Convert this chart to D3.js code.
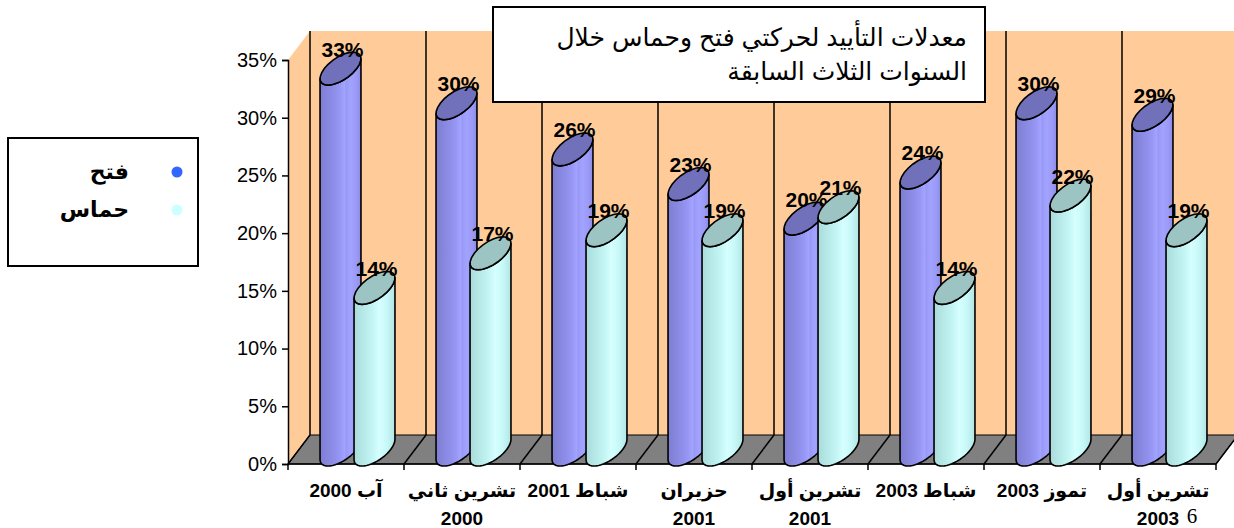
<!DOCTYPE html>
<html>
<head>
<meta charset="utf-8">
<script src="https://cdn.jsdelivr.net/npm/d3@7"></script>
<style>
  body { margin: 0; background: #fff; }
  svg { display: block; font-family: Arial, "Liberation Sans", "DejaVu Sans", sans-serif; }
</style>
</head>
<body>
<svg id="chart" width="1234" height="528"></svg>
<script>
// data
var categories = [["آب 2000"], ["تشرين ثاني", "2000"], ["شباط 2001"], ["حزيران", "2001"],
                  ["تشرين أول", "2001"], ["شباط 2003"], ["تموز 2003"], ["تشرين أول", "2003"]];
var seriesNames = ["فتح", "حماس"];
var fatah = [33, 30, 26, 23, 20, 24, 30, 29];
var hamas = [14, 17, 19, 19, 21, 14, 22, 19];
var yTicks = [0, 5, 10, 15, 20, 25, 30, 35];
var titleLines = ["معدلات التأييد لحركتي فتح وحماس خلال", "السنوات الثلاث السابقة"];
var slideNumber = "6";

var svg = d3.select("#chart");

// 3d depth offset of the plot
var dx = 22, dy = 29;

var x0 = d3.scaleBand().domain(d3.range(categories.length)).range([288, 1216]);
var x1 = d3.scaleBand().domain([0, 1]).range([35.5, 103.5]);
var y = d3.scaleLinear().domain([0, 35]).range([464, 60]);

var defs = svg.append("defs");
function grad(id, stops) {
  var g = defs.append("linearGradient").attr("id", id)
    .attr("x1", "0%").attr("x2", "100%").attr("y1", "0%").attr("y2", "0%");
  stops.forEach(function(s) {
    g.append("stop").attr("offset", s[0]).attr("stop-color", s[1]);
  });
}
grad("g-fatah", [[0, "#7d7dd2"], [0.15, "#8585dc"], [0.35, "#8f8fea"], [0.5, "#9797f6"],
                 [0.6, "#a4a4ff"], [0.63, "#9898f6"], [0.75, "#a2a2ff"], [0.9, "#9a9af6"], [1, "#8a8ae4"]]);
grad("g-hamas", [[0, "#a9dbdb"], [0.2, "#b5e7e7"], [0.45, "#c4f5f5"], [0.62, "#d6ffff"],
                 [0.8, "#c8f8f8"], [1, "#b3e5e5"]]);

var bodyFill = ["url(#g-fatah)", "url(#g-hamas)"];
var topFill = ["#7070bb", "#9cc4c2"];
var legendDot = ["#3366ff", "#ccffff"];

// walls
var yTop = y(35), yBot = y(0);
svg.append("path")
  .attr("d", "M" + x0.range()[0] + "," + yTop + "L" + (x0.range()[0] + dx) + "," + (yTop - dy) +
             "L" + (x0.range()[0] + dx) + "," + (yBot - dy) + "L" + x0.range()[0] + "," + yBot + "Z")
  .attr("fill", "#ffcc99");
svg.append("rect")
  .attr("x", x0.range()[0] + dx).attr("y", yTop - dy)
  .attr("width", x0.range()[1] - x0.range()[0]).attr("height", yBot - yTop)
  .attr("fill", "#ffcc99");

// category dividers on back wall
svg.selectAll("line.div")
  .data(d3.range(categories.length + 1)).enter()
  .append("line").attr("class", "div")
  .attr("x1", function(i) { return x0.range()[0] + i * x0.step() + dx; })
  .attr("x2", function(i) { return x0.range()[0] + i * x0.step() + dx; })
  .attr("y1", yTop - dy).attr("y2", yBot - dy)
  .attr("stroke", "#000").attr("stroke-width", 1.5);

// floor
svg.append("path")
  .attr("d", "M" + x0.range()[0] + "," + yBot + "L" + x0.range()[1] + "," + yBot +
             "L" + (x0.range()[1] + dx) + "," + (yBot - dy) + "L" + (x0.range()[0] + dx) + "," + (yBot - dy) + "Z")
  .attr("fill", "#808080").attr("stroke", "#000").attr("stroke-width", 1);
svg.selectAll("line.floor")
  .data(d3.range(categories.length + 1)).enter()
  .append("line").attr("class", "floor")
  .attr("x1", function(i) { return x0.range()[0] + i * x0.step(); })
  .attr("y1", yBot)
  .attr("x2", function(i) { return x0.range()[0] + i * x0.step() + dx; })
  .attr("y2", yBot - dy)
  .attr("stroke", "#000").attr("stroke-width", 1.5);

// axes
var yAxis = svg.append("g")
  .attr("transform", "translate(" + x0.range()[0] + ",0)")
  .call(d3.axisLeft(y).tickValues(yTicks).tickSize(6).tickPadding(5)
          .tickFormat(function(d) { return d + "%"; }));
yAxis.select(".domain").attr("stroke-width", 1.5);
yAxis.selectAll("line").attr("stroke-width", 1.5);
yAxis.selectAll("text").attr("font-size", 20).attr("font-family", "Arial, 'Liberation Sans'").attr("fill", "#000");

svg.append("line")
  .attr("x1", x0.range()[0]).attr("x2", x0.range()[1])
  .attr("y1", yBot).attr("y2", yBot)
  .attr("stroke", "#000").attr("stroke-width", 1.5);
svg.selectAll("line.xtick")
  .data(d3.range(categories.length + 1)).enter()
  .append("line").attr("class", "xtick")
  .attr("x1", function(i) { return x0.range()[0] + i * x0.step(); })
  .attr("x2", function(i) { return x0.range()[0] + i * x0.step(); })
  .attr("y1", yBot).attr("y2", yBot + 6)
  .attr("stroke", "#000").attr("stroke-width", 1.5);

// category labels
svg.selectAll("text.cat")
  .data(categories).enter()
  .append("text").attr("class", "cat")
  .attr("direction", "rtl")
  .attr("text-anchor", "middle")
  .attr("font-size", 19).attr("font-weight", "bold")
  .each(function(lines, i) {
    var t = d3.select(this);
    lines.forEach(function(l, k) {
      t.append("tspan")
        .attr("x", x0(i) + x0.bandwidth() / 2)
        .attr("y", 497 + k * 28)
        .text(l);
    });
  });

// cylinders
var A = 16.2, B = 12.5, C = 16.5, lift = 14.5;
var th0 = Math.atan2(B, A);
function pt(cx, ec, th) { return [cx + A * Math.cos(th) + B * Math.sin(th), ec - C * Math.sin(th)]; }
function arcPts(cx, ec, from, to) {
  var n = 24, out = [];
  for (var k = 0; k <= n; k++) out.push(pt(cx, ec, from + (to - from) * k / n));
  return out;
}
function bodyPath(cx, v) {
  var et = y(v) - lift, eb = y(0) - lift;
  var pts = arcPts(cx, eb, th0 + Math.PI, th0 + 2 * Math.PI)
    .concat(arcPts(cx, et, th0 + 2 * Math.PI, th0 + Math.PI));
  return d3.line()(pts) + "Z";
}
function topPath(cx, v) {
  return d3.line()(arcPts(cx, y(v) - lift, 0, 2 * Math.PI)) + "Z";
}

var rows = categories.map(function(c, i) { return [fatah[i], hamas[i]]; });

var cat = svg.selectAll("g.cyl")
  .data(rows).enter()
  .append("g").attr("class", "cyl");

cat.each(function(vals, i) {
  var g = d3.select(this);
  vals.forEach(function(v, s) {
    var cx = x0(i) + x1(s) + x1.bandwidth() / 2;
    g.append("path").attr("d", bodyPath(cx, v))
      .attr("fill", bodyFill[s]).attr("stroke", "#000").attr("stroke-width", 1.6)
      .attr("stroke-linejoin", "round");
    g.append("path").attr("d", topPath(cx, v))
      .attr("fill", topFill[s]).attr("stroke", "#000").attr("stroke-width", 1.6);
    g.append("text")
      .attr("x", cx + 2).attr("y", y(v) - lift - 12)
      .attr("text-anchor", "middle")
      .attr("font-size", 21).attr("font-weight", "bold")
      .text(v + "%");
  });
});

// title box
svg.append("rect")
  .attr("x", 493).attr("y", 7).attr("width", 492).attr("height", 95)
  .attr("fill", "#fff").attr("stroke", "#000").attr("stroke-width", 2);
svg.selectAll("text.title")
  .data(titleLines).enter()
  .append("text").attr("class", "title")
  .attr("x", 967).attr("y", function(d, i) { return 46 + i * 34; })
  .attr("text-anchor", "end")
  .attr("font-size", 25)
  .text(function(d) { return d; });

// legend
var legend = svg.append("g");
legend.append("rect")
  .attr("x", 8).attr("y", 138).attr("width", 190).attr("height", 128)
  .attr("fill", "#fff").attr("stroke", "#000").attr("stroke-width", 2);
var li = legend.selectAll("g.li").data(seriesNames).enter()
  .append("g").attr("class", "li")
  .attr("transform", function(d, i) { return "translate(0," + (172 + i * 38) + ")"; });
li.append("circle").attr("cx", 177).attr("cy", 0).attr("r", 5.5)
  .attr("fill", function(d, i) { return legendDot[i]; });
li.append("text")
  .attr("x", 129).attr("y", 7)
  .attr("text-anchor", "end")
  .attr("font-size", 22).attr("font-weight", "bold")
  .text(function(d) { return d; });

// slide number
svg.append("text")
  .attr("x", 1192).attr("y", 523)
  .attr("text-anchor", "middle")
  .attr("font-family", "'Liberation Serif', 'DejaVu Serif', serif")
  .attr("font-size", 21)
  .text(slideNumber);
</script>
</body>
</html>
